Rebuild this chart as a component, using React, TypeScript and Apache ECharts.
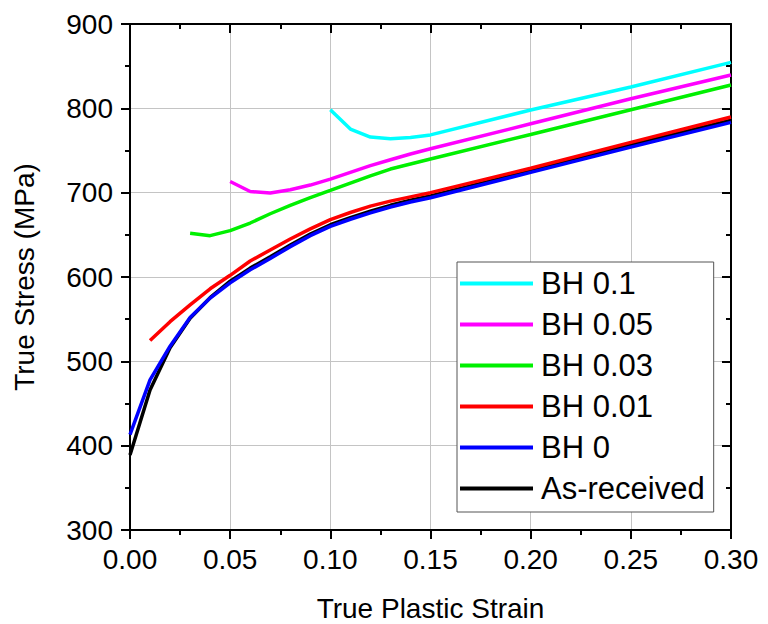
import React, { useEffect, useRef } from "react";
import * as echarts from "echarts";

const strain = [0, 0.01, 0.02, 0.03, 0.04, 0.05, 0.06, 0.07, 0.08, 0.09, 0.1, 0.11, 0.12, 0.13, 0.14, 0.15, 0.2, 0.25, 0.3];

const asReceived = [389, 466, 516, 551, 575.5, 595, 610.5, 624, 638, 651, 662, 670.5, 678, 685, 691, 696, 726, 756.5, 786];
const bh0 = [413, 478, 518, 552, 575, 593, 608.5, 622, 636, 649, 660, 668.5, 676, 683, 689, 694, 724, 754, 783.3];
const bh001 = [524.7, 547, 567, 586, 602, 619, 632, 645, 657, 668, 676.5, 684, 690, 695, 700, 729, 759.6, 789.7];
const bh003 = [652, 649, 655, 664, 675, 685, 694, 702.6, 711.4, 720, 728, 734, 740, 769, 798.3, 827.6];
const bh005 = [713.3, 701.4, 699.5, 703.4, 709, 716, 724, 732, 739, 745.8, 752, 781.7, 811.4, 839.5];
const bh01 = [798.3, 775.4, 766, 764, 765.5, 768.5, 798, 825.3, 854.5];

const seriesNames = ["As-received", "BH 0", "BH 0.01", "BH 0.03", "BH 0.05", "BH 0.1"];
const seriesColors = ["#000000", "#0000ff", "#ff0000", "#00f000", "#ff00ff", "#00ffff"];
const seriesValues = [asReceived, bh0, bh001, bh003, bh005, bh01];
const legendOrder = ["BH 0.1", "BH 0.05", "BH 0.03", "BH 0.01", "BH 0", "As-received"];

const xTicks = { min: 0, max: 0.3, interval: 0.05 };
const yTicks = { min: 300, max: 900, interval: 100 };

const FONT = "Liberation Sans, Arial, sans-serif";

function pair(values: number[]) {
  const off = strain.length - values.length;
  return values.map((v, i) => [strain[off + i], v]);
}

export default function App() {
  const ref = useRef<HTMLDivElement>(null);
  useEffect(() => {
    if (!ref.current) return;
    const chart = echarts.init(ref.current, undefined, { renderer: "svg" });
    const axisLine = { show: true, onZero: false, lineStyle: { color: "#000", width: 2 } };
    const tickOut = { show: true, inside: false, length: 9, lineStyle: { color: "#000", width: 2 } };
    const tickIn = { show: true, inside: true, length: 9, lineStyle: { color: "#000", width: 2 } };
    const minorOut = { show: true, splitNumber: 2, length: 5, lineStyle: { color: "#000", width: 2 } };
    const baseX = {
      type: "value" as const,
      min: xTicks.min,
      max: xTicks.max,
      interval: xTicks.interval,
    };
    const baseY = {
      type: "value" as const,
      min: yTicks.min,
      max: yTicks.max,
      interval: yTicks.interval,
    };
    const lineSeries = seriesNames.map((name, i) => ({
      name,
      type: "line",
      xAxisIndex: 0,
      yAxisIndex: 0,
      data: pair(seriesValues[i]),
      symbol: "none",
      showSymbol: false,
      smooth: false,
      color: seriesColors[i],
      lineStyle: { color: seriesColors[i], width: 3.5 },
      itemStyle: { color: seriesColors[i] },
    }));
    chart.setOption({
      animation: false,
      backgroundColor: "#ffffff",
      grid: { left: 130, right: 37, top: 24, bottom: 94, containLabel: false, outerBoundsMode: "none" },
      legend: {
        data: legendOrder,
        orient: "vertical",
        left: 457,
        top: 262,
        padding: [6, 9, 8, 3],
        itemGap: 10,
        itemWidth: 73,
        itemHeight: 4,
        icon: "rect",
        borderColor: "#555",
        borderWidth: 1,
        backgroundColor: "#ffffff",
        textStyle: { fontFamily: FONT, fontSize: 31, color: "#000", padding: [0, 0, 0, 3] },
      },
      xAxis: [
        {
          ...baseX,
          position: "bottom",
          name: "True Plastic Strain",
          nameLocation: "middle",
          nameGap: 64,
          nameTextStyle: { fontFamily: FONT, fontSize: 28, color: "#000" },
          axisLine,
          axisTick: tickOut,
          minorTick: minorOut,
          axisLabel: {
            fontFamily: FONT,
            fontSize: 28,
            color: "#000",
            margin: 15,
            formatter: (v: number) => v.toFixed(2),
          },
          splitLine: { show: true, lineStyle: { color: "#c4c4c4", width: 1 } },
        },
        {
          ...baseX,
          show: true,
          position: "top",
          axisLine,
          axisTick: tickIn,
          minorTick: minorOut,
          axisLabel: { show: false },
          splitLine: { show: false },
        },
      ],
      yAxis: [
        {
          ...baseY,
          position: "left",
          name: "True Stress (MPa)",
          nameLocation: "middle",
          nameGap: 92,
          nameTextStyle: { fontFamily: FONT, fontSize: 28, color: "#000" },
          axisLine,
          axisTick: tickOut,
          minorTick: minorOut,
          axisLabel: { fontFamily: FONT, fontSize: 28, color: "#000", margin: 17 },
          splitLine: { show: true, lineStyle: { color: "#c4c4c4", width: 1 } },
        },
        {
          ...baseY,
          show: true,
          position: "right",
          axisLine,
          axisTick: tickIn,
          minorTick: minorOut,
          axisLabel: { show: false },
          splitLine: { show: false },
        },
      ],
      series: [
        ...lineSeries,
        {
          name: "mirror",
          type: "line",
          xAxisIndex: 1,
          yAxisIndex: 1,
          data: [],
          silent: true,
          symbol: "none",
        },
      ],
    });
    return () => chart.dispose();
  }, []);
  return <div ref={ref} style={{ position: "fixed", left: 0, top: 0, width: 768, height: 624 }} />;
}
